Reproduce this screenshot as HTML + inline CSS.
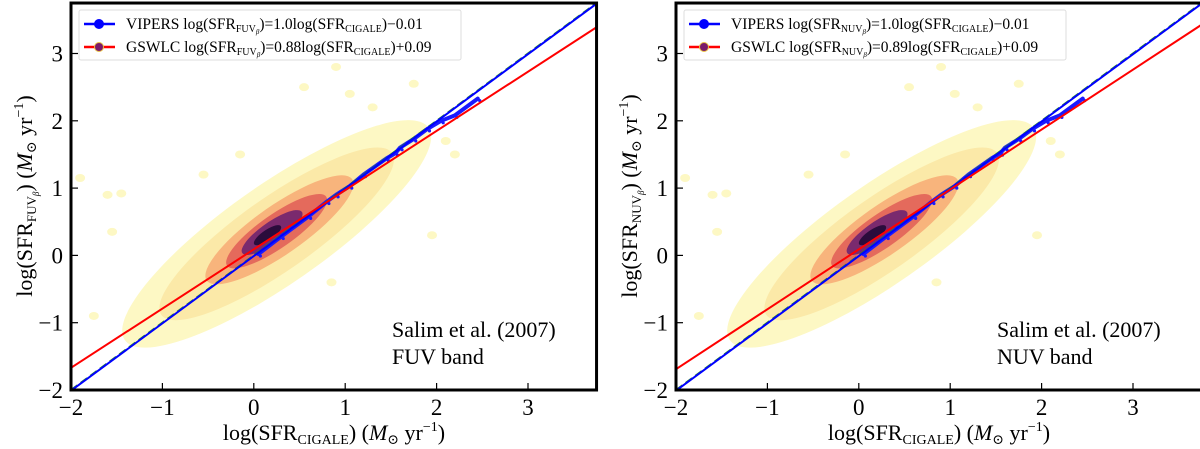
<!DOCTYPE html>
<html><head><meta charset="utf-8"><style>
html,body{margin:0;padding:0;background:#fff;}
svg{display:block;}
svg text{font-family:"Liberation Serif","DejaVu Serif",serif;}
</style></head><body>
<svg id="chart" width="1200" height="449" viewBox="0 0 1200 449" xmlns="http://www.w3.org/2000/svg" font-family="Liberation Serif, DejaVu Serif, serif"></svg>
<script>
// ---- data ----
const xTicks = [-2, -1, 0, 1, 2, 3];
const yTicks = [-2, -1, 0, 1, 2, 3];
const tickLabels = ["\u22122", "\u22121", "0", "1", "2", "3"];
const bands = ["FUV", "NUV"];
const vipersSlope = [1.0, 1.0];
const vipersIntercept = [-0.01, -0.01];
const gswlcSlope = [0.88, 0.89];
const gswlcIntercept = [0.09, 0.09];
// density layers (hexbin approximation): centre x, centre y, half-length along diagonal, half-width across
const layerX = [0.25, 0.25, 0.28, 0.25, 0.2, 0.15];
const layerY = [0.32, 0.32, 0.38, 0.36, 0.34, 0.3];
const layerLen = [2.3, 1.75, 1.1, 0.75, 0.45, 0.2];
const layerWid = [0.65, 0.48, 0.32, 0.22, 0.14, 0.07];
const layerColor = ["#fdf8c4", "#fbe9a8", "#f8b47c", "#e46a5c", "#7a2a6e", "#2a0c3c"];
// sparse outlier bins
const outX = [-1.9, -1.6, -1.45, -1.55, -1.75, -0.55, -0.15, 0.55, 1.05, 1.3, 1.75, 2.1, 0.85, 1.95, -1.1, 0.9, 2.2];
const outY = [1.15, 0.9, 0.92, 0.35, -0.9, 1.2, 1.5, 2.5, 2.4, 2.2, 2.55, 1.7, -0.4, 0.3, -0.6, 2.8, 1.5];
// blue VIPERS points (sorted by x)
const blueX = [0.05, 0.3, 0.6, 0.8, 0.9, 1.05, 1.2, 1.45, 1.55, 1.6, 1.75, 1.9, 2.05, 2.2, 2.45];
const blueY = [0.02, 0.28, 0.58, 0.8, 0.9, 1.03, 1.2, 1.44, 1.52, 1.6, 1.73, 1.88, 2.0, 2.08, 2.33];

// ---- geometry ----
const NS = "http://www.w3.org/2000/svg";
const svg = document.getElementById("chart");
const X0 = 71, XS = 91.4, Y0 = 390, YS = 67.3;
const XMIN = -2, XMAX = 3.75, YMIN = -2, YMAX = 3.75;
function mk(tag, attrs, parent) {
  const e = document.createElementNS(NS, tag);
  for (const k in attrs) e.setAttribute(k, attrs[k]);
  (parent || svg).appendChild(e);
  return e;
}

bands.forEach((band, p) => {
  const ox = p === 0 ? 0 : 605;
  const px = x => ox + X0 + (x - XMIN) * XS;
  const py = y => Y0 - (y - YMIN) * YS;
  const g = mk("g", {});
  
  
  const clipId = "clip" + p;
  const cp = mk("clipPath", { id: clipId }, g);
  mk("rect", { x: px(XMIN), y: py(YMAX), width: px(XMAX) - px(XMIN), height: py(YMIN) - py(YMAX) }, cp);
  const plot = mk("g", { "clip-path": "url(#" + clipId + ")" }, g);

  const dens = mk("g", { transform: `matrix(${XS},0,0,${-YS},${px(0)},${py(0)})` }, plot);
  
  
  layerX.forEach((cx, i) => {
    const e = mk("ellipse", { cx: cx, cy: layerY[i], rx: layerLen[i], ry: layerWid[i], fill: layerColor[i],
      transform: `rotate(45 ${cx} ${layerY[i]})` }, dens);
    
    
  });
  outX.forEach((x, i) => {
    const c = mk("ellipse", { cx: px(x), cy: py(outY[i]), rx: 5, ry: 4, fill: "#fdf8c4" }, plot);
    
    
  });
  const bl = mk("polyline", { points: blueX.map((x, i) => px(x) + "," + py(blueY[i])).join(" "),
    fill: "none", stroke: "#1a1aff", "stroke-width": 4, "stroke-linecap": "round", "stroke-linejoin": "round" }, plot);
  
  
  blueX.forEach((x, i) => {
    const c = mk("circle", { cx: px(x) + 2, cy: py(blueY[i]) + 2, r: 1.6, fill: "#1a1aff" }, plot);
    
    
  });
  const gl = mk("line", { x1: px(XMIN), y1: py(XMIN), x2: px(XMAX), y2: py(XMAX), stroke: "#2a8a2a", "stroke-width": 2, "stroke-dasharray": "8 4" }, plot);
  
  
  const vl = mk("line", { x1: px(XMIN), y1: py(vipersSlope[p] * XMIN + vipersIntercept[p]), x2: px(XMAX), y2: py(vipersSlope[p] * XMAX + vipersIntercept[p]), stroke: "#0000ff", "stroke-width": 2 }, plot);
  
  
  const rl = mk("line", { x1: px(XMIN), y1: py(gswlcSlope[p] * XMIN + gswlcIntercept[p]), x2: px(XMAX), y2: py(gswlcSlope[p] * XMAX + gswlcIntercept[p]), stroke: "#ff0000", "stroke-width": 2 }, plot);
  
  

  const fr = mk("rect", { x: px(XMIN), y: py(YMAX), width: px(XMAX) - px(XMIN), height: py(YMIN) - py(YMAX), fill: "none", stroke: "#000", "stroke-width": 3 }, g);
  
  

  xTicks.forEach((t, i) => {
    const tk = mk("line", { x1: px(t), y1: py(YMIN), x2: px(t), y2: py(YMIN) - 7, stroke: "#000", "stroke-width": 1.2 }, g);
    
    
    const tl = mk("text", { x: px(t), y: py(YMIN) + 25, "font-size": 23, "text-anchor": "middle" }, g);
    tl.textContent = tickLabels[i];
    
    
  });
  yTicks.forEach((t, i) => {
    const tk = mk("line", { x1: px(XMIN), y1: py(t), x2: px(XMIN) + 7, y2: py(t), stroke: "#000", "stroke-width": 1.2 }, g);
    
    
    const tl = mk("text", { x: px(XMIN) - 8, y: py(t) + 8, "font-size": 23, "text-anchor": "end" }, g);
    tl.textContent = tickLabels[i];
    
    
  });

  const xt = mk("text", { x: ox + 334, y: 440, "font-size": 22, "text-anchor": "middle" }, g);
  xt.innerHTML = 'log(SFR<tspan font-size="14" dy="4">CIGALE</tspan><tspan dy="-4">) (</tspan><tspan font-style="italic">M</tspan><tspan font-size="14" dy="4">⊙</tspan><tspan dy="-4"> yr</tspan><tspan font-size="14" dy="-9">−1</tspan><tspan dy="9">)</tspan>';
  
  
  const yt = mk("text", { x: 0, y: 0, "font-size": 22, "text-anchor": "middle", transform: `translate(${ox + 32},${196}) rotate(-90)` }, g);
  yt.innerHTML = 'log(SFR<tspan font-size="13" dy="4">' + band + '</tspan><tspan font-size="9" font-style="italic" dy="3">β</tspan><tspan dy="-7">) (</tspan><tspan font-style="italic">M</tspan><tspan font-size="14" dy="4">⊙</tspan><tspan dy="-4"> yr</tspan><tspan font-size="14" dy="-9">−1</tspan><tspan dy="9">)</tspan>';
  
  

  const a1 = mk("text", { x: ox + 392, y: 337, "font-size": 22 }, g);
  a1.textContent = "Salim et al. (2007)";
  
  
  const a2 = mk("text", { x: ox + 392, y: 364, "font-size": 22 }, g);
  a2.textContent = band + " band";
  
  

  const lg = mk("g", {}, g);
  
  
  mk("rect", { x: ox + 79, y: 10, width: 382, height: 50, fill: "#fff", stroke: "#ddd", "stroke-width": 1, rx: 2 }, lg);
  const entries = [
    { c: "#0000ff", m: "#0000ff", ms: "#0000ff", name: "VIPERS", s: vipersSlope[p].toFixed(1), b: vipersIntercept[p] },
    { c: "#ff0000", m: "#7a1a6a", ms: "#e8c040", name: "GSWLC", s: gswlcSlope[p].toFixed(2), b: gswlcIntercept[p] }
  ];
  entries.forEach((en, i) => {
    const y = 24 + i * 23;
    const ge = mk("g", {}, lg);
    
    
    mk("line", { x1: ox + 84, y1: y, x2: ox + 115, y2: y, stroke: en.c, "stroke-width": 2.5 }, ge);
    mk("circle", { cx: ox + 99, cy: y, r: 4.5, fill: en.m, stroke: en.ms, "stroke-width": 1 }, ge);
    const t = mk("text", { x: ox + 126, y: y + 5, "font-size": 15.5 }, ge);
    const bs = (en.b < 0 ? "−" : "+") + Math.abs(en.b).toFixed(2);
    t.innerHTML = en.name + ' log(SFR<tspan font-size="10" dy="3">' + band + '</tspan><tspan font-size="7" font-style="italic" dy="2">β</tspan><tspan dy="-5">)=' + en.s + 'log(SFR</tspan><tspan font-size="10" dy="3">CIGALE</tspan><tspan dy="-3">)' + bs + '</tspan>';
  });
});
</script>
</body></html>
